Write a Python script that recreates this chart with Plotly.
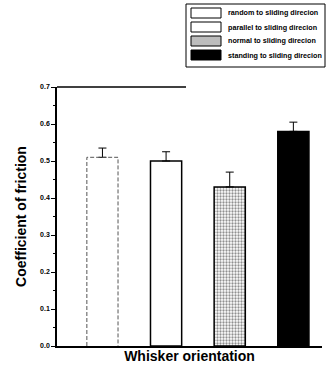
import plotly.graph_objects as go

categories = ["random to sliding direcion", "parallel to sliding direcion",
              "normal to sliding direcion", "standing to sliding direcion"]
values = [0.51, 0.50, 0.43, 0.58]
errors = [0.025, 0.025, 0.04, 0.025]
y_ticks = [0.0, 0.1, 0.2, 0.3, 0.4, 0.5, 0.6, 0.7]
y_ticklabels = ["0.0", "0.1", "0.2", "0.3", "0.4", "0.5", "0.6", "0.7"]

FONT = "Liberation Sans, Arial, sans-serif"
W, H = 327, 367
ML, MR, MT, MB = 57, 5, 87, 21
PW, PH = W - ML - MR, H - MT - MB
BAR_W = 0.49


def px_x(px):
    return (px - ML) / PW


def px_y(py):
    return (H - MB - py) / PH


bar_styles = [
    dict(color="white", line=dict(color="white", width=0)),
    dict(color="white", line=dict(color="black", width=1.5)),
    dict(color="white", line=dict(color="black", width=1.5),
         pattern=dict(shape=".", fgcolor="#222222", bgcolor="white", size=3, solidity=0.45)),
    dict(color="black", line=dict(color="black", width=1.5)),
]
swatch_fill = ["white", "white", "#bdbdbd", "black"]

fig = go.Figure()
for i, (name, v, e) in enumerate(zip(categories, values, errors)):
    fig.add_trace(go.Bar(
        x=[i], y=[v], name=name, width=BAR_W,
        marker=bar_styles[i], showlegend=False,
        error_y=dict(type="data", array=[e], arrayminus=[0], symmetric=False,
                     color="black", thickness=1, width=4),
    ))

# dashed outline of the "random" bar, built from its value
v0 = values[0]
fig.add_trace(go.Scatter(
    x=[0 - BAR_W / 2, 0 - BAR_W / 2, 0 + BAR_W / 2, 0 + BAR_W / 2],
    y=[0, v0, v0, 0], mode="lines", showlegend=False, hoverinfo="skip",
    line=dict(color="#555555", width=1, dash="4px,2px"),
))

# manual legend (box, swatches, labels)
fig.add_shape(type="rect", xref="paper", yref="paper",
              x0=px_x(186), x1=px_x(325), y0=px_y(67), y1=px_y(4),
              line=dict(color="black", width=1), fillcolor="white", layer="above")
for i, name in enumerate(categories):
    cy = 13 + 14 * i
    fig.add_shape(type="rect", xref="paper", yref="paper",
                  x0=px_x(191), x1=px_x(221), y0=px_y(cy + 5), y1=px_y(cy - 5),
                  line=dict(color="black", width=1), fillcolor=swatch_fill[i], layer="above")
    fig.add_annotation(xref="paper", yref="paper", x=px_x(226), y=px_y(cy),
                       xanchor="left", yanchor="middle", showarrow=False,
                       text=name, font=dict(size=7.2, family=FONT, weight="bold"))

fig.update_layout(
    width=W, height=H,
    margin=dict(l=ML, r=MR, t=MT, b=MB, autoexpand=False),
    paper_bgcolor="white", plot_bgcolor="white",
    font=dict(family=FONT, color="black"),
    showlegend=False,
    barmode="overlay",
)
fig.update_xaxes(
    range=[-0.714, 3.45], showticklabels=False, ticks="",
    showline=True, linecolor="black", linewidth=1.5, showgrid=False, zeroline=False,
    title=dict(text="Whisker orientation", standoff=4,
               font=dict(size=14, family=FONT, weight="bold")),
)
fig.update_yaxes(
    range=[0, 0.7], tickvals=y_ticks, ticktext=y_ticklabels,
    ticks="outside", ticklen=4, tickwidth=1, tickcolor="black",
    minor=dict(ticks="outside", ticklen=2, tickcolor="black", dtick=0.05),
    tickfont=dict(size=7, family=FONT, weight="bold"),
    showline=True, linecolor="black", linewidth=1.5, showgrid=False, zeroline=False,
    title=dict(text="Coefficient of friction", standoff=10,
               font=dict(size=14, family=FONT, weight="bold")),
)
fig.add_shape(type="line", xref="paper", yref="paper", x0=0, x1=px_x(186), y0=1, y1=1,
              line=dict(color="black", width=1.5))

fig.write_html("out.html")
